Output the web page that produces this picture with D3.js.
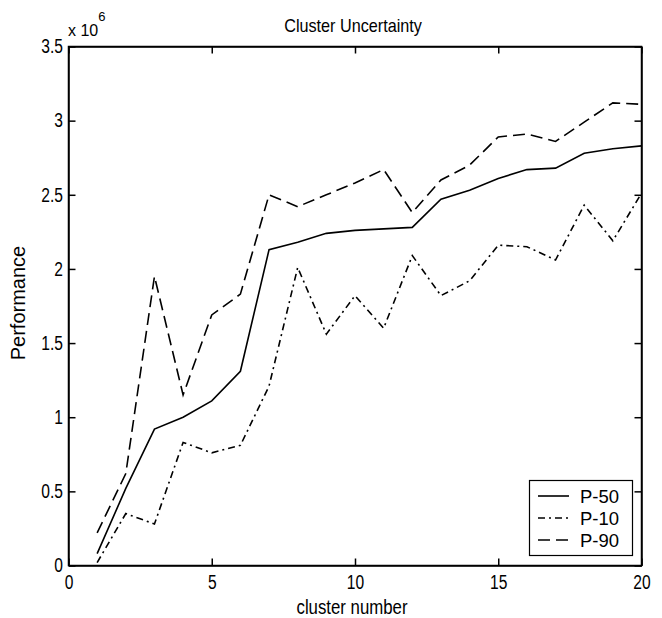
<!DOCTYPE html>
<html>
<head>
<meta charset="utf-8">
<script src="https://cdn.jsdelivr.net/npm/d3@7"></script>
<style>
  body { margin: 0; background: #fff; }
  svg text { font-family: "Liberation Sans", Arial, sans-serif; fill: #000; }
</style>
</head>
<body>
<svg id="chart" width="662" height="618"></svg>
<script>
  // cluster uncertainty data, values in units of 1e6
  var clusters = [1, 2, 3, 4, 5, 6, 7, 8, 9, 10, 11, 12, 13, 14, 15, 16, 17, 18, 19, 20];
  var p50 = [0.08, 0.52, 0.92, 1.00, 1.11, 1.31, 2.13, 2.18, 2.24, 2.26, 2.27, 2.28, 2.47, 2.53, 2.61, 2.67, 2.68, 2.78, 2.81, 2.83];
  var p10 = [0.02, 0.35, 0.28, 0.83, 0.76, 0.81, 1.21, 2.01, 1.56, 1.82, 1.60, 2.09, 1.82, 1.92, 2.16, 2.15, 2.06, 2.43, 2.19, 2.51];
  var p90 = [0.22, 0.62, 1.95, 1.15, 1.69, 1.83, 2.50, 2.42, 2.50, 2.58, 2.67, 2.38, 2.60, 2.70, 2.89, 2.91, 2.86, 2.99, 3.12, 3.11];
  var xTicks = [0, 5, 10, 15, 20];
  var yTicks = [0, 0.5, 1, 1.5, 2, 2.5, 3, 3.5];
  var seriesNames = ['P-50', 'P-10', 'P-90'];

(function() {
  var plotLeft = 68.5, plotRight = 641.5, plotTop = 46.5, plotBottom = 565.5;
  var squeeze = 0.8; // the original's lettering is narrow
  var svg = d3.select('#chart');

  var x = d3.scaleLinear().domain([0, 20]).range([plotLeft, plotRight]);
  var y = d3.scaleLinear().domain([0, 3.5]).range([plotBottom, plotTop]);

  var series = [
    { name: seriesNames[0], values: p50, dash: null },
    { name: seriesNames[1], values: p10, dash: '7,4,2,4' },
    { name: seriesNames[2], values: p90, dash: '12,6' }
  ];

  var line = d3.line()
    .x(function(d) { return x(d.c); })
    .y(function(d) { return y(d.v); });

  svg.selectAll('path.series').data(series).enter().append('path')
    .attr('class', 'series')
    .attr('fill', 'none')
    .attr('stroke', '#000')
    .attr('stroke-width', 1.6)
    .attr('stroke-dasharray', function(d) { return d.dash; })
    .attr('d', function(d) {
      return line(d.values.map(function(v, i) { return { c: clusters[i], v: v }; }));
    });

  // axes, matlab style box with inward ticks on all sides
  var tickLen = 7;
  var fmt = function(d) { return String(d); };

  var bottomAxis = d3.axisBottom(x).tickValues(xTicks).tickSizeInner(-tickLen).tickSizeOuter(0).tickPadding(10).tickFormat(fmt);
  var topAxis = d3.axisTop(x).tickValues(xTicks).tickSizeInner(-tickLen).tickSizeOuter(0).tickFormat('');
  var leftAxis = d3.axisLeft(y).tickValues(yTicks).tickSizeInner(-tickLen).tickSizeOuter(0).tickPadding(7).tickFormat(fmt);
  var rightAxis = d3.axisRight(y).tickValues(yTicks).tickSizeInner(-tickLen).tickSizeOuter(0).tickFormat('');

  svg.append('g').attr('transform', 'translate(0,' + plotBottom + ')').call(bottomAxis);
  svg.append('g').attr('transform', 'translate(0,' + plotTop + ')').call(topAxis);
  svg.append('g').attr('transform', 'translate(' + plotLeft + ',0)').call(leftAxis);
  svg.append('g').attr('transform', 'translate(' + plotRight + ',0)').call(rightAxis);

  svg.selectAll('.domain, .tick line').attr('stroke', '#000').attr('stroke-width', 1.5);
  svg.selectAll('.tick text')
    .attr('font-size', 19.5)
    .attr('fill', '#000')
    .attr('transform', 'scale(' + squeeze + ',1)');

  // full box round the plot
  svg.append('rect')
    .attr('x', plotLeft).attr('y', plotTop)
    .attr('width', plotRight - plotLeft).attr('height', plotBottom - plotTop)
    .attr('fill', 'none').attr('stroke', '#000').attr('stroke-width', 1.5);

  // titles
  svg.append('text').attr('transform', 'translate(353,31.5) scale(0.9,1)').attr('text-anchor', 'middle')
    .attr('font-size', 18).text('Cluster Uncertainty');
  svg.append('text').attr('transform', 'translate(352,614) scale(' + squeeze + ',1)').attr('text-anchor', 'middle')
    .attr('font-size', 21).text('cluster number');
  svg.append('text').attr('transform', 'translate(25,303) rotate(-90)').attr('text-anchor', 'middle')
    .attr('font-size', 20).text('Performance');

  // exponent label
  var expo = svg.append('text').attr('x', 68).attr('y', 36).attr('font-size', 16);
  expo.append('tspan').text('x 10');
  expo.append('tspan').attr('dy', -15).attr('font-size', 13).text('6');

  // legend
  var lg = svg.append('g');
  lg.append('rect')
    .attr('x', 529.5).attr('y', 480.5).attr('width', 103).attr('height', 75)
    .attr('fill', '#fff').attr('stroke', '#000').attr('stroke-width', 1.2);
  var rows = lg.selectAll('g.row').data(series).enter().append('g')
    .attr('transform', function(d, i) { return 'translate(0,' + (496 + i * 22) + ')'; });
  rows.append('line')
    .attr('x1', 538).attr('x2', 569).attr('y1', 0).attr('y2', 0)
    .attr('stroke', '#000').attr('stroke-width', 1.6)
    .attr('stroke-dasharray', function(d) { return d.dash; });
  rows.append('text').attr('x', 580).attr('y', 7).attr('font-size', 18.5)
    .text(function(d) { return d.name; });
}).call(this);
</script>
</body>
</html>
